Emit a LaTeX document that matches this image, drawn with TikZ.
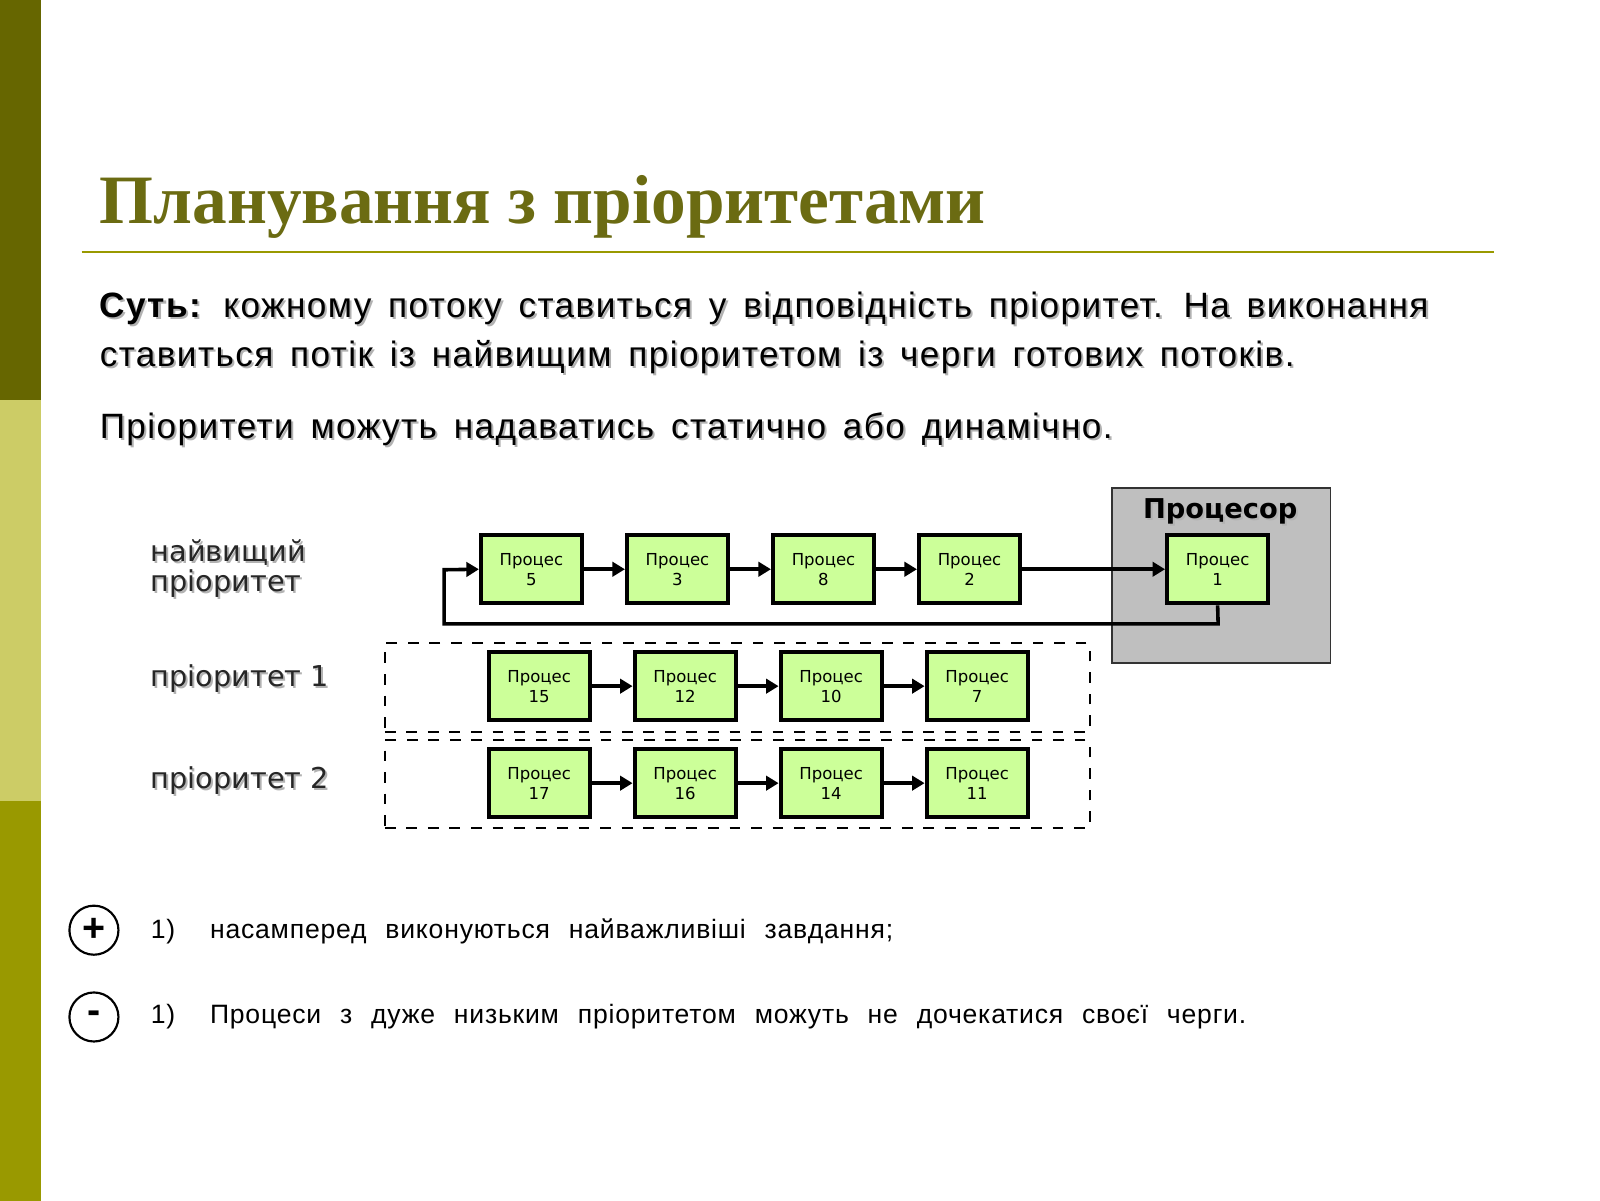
\documentclass[tikz,border=0pt]{standalone}
\usepackage{fontspec}
\setmainfont{Liberation Sans}
\newfontfamily\tserif{Liberation Serif}
\newfontfamily\verd{DejaVu Sans}
\newfontfamily\bodyf[LetterSpace=4,WordSpace=1.5]{Liberation Sans}
\newfontfamily\botf[LetterSpace=3,WordSpace=2.3]{Liberation Sans}
\usetikzlibrary{arrows.meta}
\definecolor{olivedk}{HTML}{666600}
\definecolor{olivelt}{HTML}{CCCC66}
\definecolor{olivemd}{HTML}{999900}
\definecolor{titlec}{HTML}{6B6B12}
\definecolor{procg}{HTML}{CCFF99}
\begin{document}
\begin{tikzpicture}[x=0.01cm,y=-0.01cm,
  proc/.style={draw=black,line width=1.1pt,fill=procg,minimum width=0.99cm,minimum height=0.67cm,inner sep=0pt,align=center,font=\verd\fontsize{4.6}{5.6}\selectfont},
  arr/.style={line width=1pt,-{Triangle[length=3.5pt,width=4pt]}},
  lbl/.style={anchor=west,inner sep=0pt,font=\verd\fontsize{8}{9.3}\selectfont,text=black!85,align=left},
  body/.style={anchor=base west,inner sep=0pt,font=\bodyf\fontsize{9.8}{11}\selectfont},
  bot/.style={anchor=west,inner sep=0pt,font=\botf\fontsize{7.4}{9}\selectfont}]
\useasboundingbox (0,0) rectangle (1567,1176);
\fill[white] (0,0) rectangle (1567,1176);
\fill[olivedk] (0,0) rectangle (40,392);
\fill[olivelt] (0,392) rectangle (40,784);
\fill[olivemd] (0,784) rectangle (40,1176);
\node[anchor=base west,inner sep=0pt,text=titlec,font=\tserif\bfseries\fontsize{19.3}{22}\selectfont] (title) at (97,219) {Планування з пріоритетами};
\draw[olivemd,line width=0.7pt] (80,247) -- (1463,247);
% shadows
\begin{scope}[text=black!30]
\node[body] at (99,313) {\textbf{Суть:} кожному потоку ставиться у відповідність пріоритет. На виконання};
\node[body] at (99,361) {ставиться потік із найвищим пріоритетом із черги готових потоків.};
\node[body] at (99,431) {Пріоритети можуть надаватись статично або динамічно.};
\node[lbl,text=black!30] at (149,559) {найвищий\\[-1pt]пріоритет};
\node[lbl,text=black!30] at (149,667) {пріоритет 1};
\node[lbl,text=black!30] at (149,766) {пріоритет 2};
\end{scope}
\node[body] (t1) at (97,311) {\textbf{Суть:} кожному потоку ставиться у відповідність пріоритет. На виконання};
\node[body] (t2) at (97,359) {ставиться потік із найвищим пріоритетом із черги готових потоків.};
\node[body] (t3) at (97,429) {Пріоритети можуть надаватись статично або динамічно.};
% processor
\node[draw=black!80,fill=black!25,minimum width=2.14cm,minimum height=1.71cm,anchor=north west,inner sep=0pt,line width=0.5pt] (cpu) at (1088,477) {};
\node[text=black!30,font=\verd\bfseries\fontsize{7.6}{9}\selectfont] at (1197,503) {Процесор};
\node[font=\verd\bfseries\fontsize{7.6}{9}\selectfont] (cpul) at (1195,501) {Процесор};
% dashed
\node[draw,dashed,line width=0.5pt,minimum width=6.9cm,minimum height=0.87cm,anchor=north west,inner sep=0pt] (d1) at (376,629) {};
\node[draw,dashed,line width=0.5pt,minimum width=6.9cm,minimum height=0.86cm,anchor=north west,inner sep=0pt] (d2) at (376,724) {};
% labels
\node[lbl] (l0) at (147,557) {найвищий\\[-1pt]пріоритет};
\node[lbl] (l1) at (147,665) {пріоритет 1};
\node[lbl] (l2) at (147,764) {пріоритет 2};
% row 1
\node[proc] (p5) at (520.5,557.5) {Процес\\5};
\node[proc] (p3) at (663.5,557.5) {Процес\\3};
\node[proc] (p8) at (806.5,557.5) {Процес\\8};
\node[proc] (p2) at (949.5,557.5) {Процес\\2};
\node[proc] (p1) at (1192.5,557.5) {Процес\\1};
\draw[arr] (p5) -- (p3);
\draw[arr] (p3) -- (p8);
\draw[arr] (p8) -- (p2);
\draw[arr] (p2) -- (p1);
\coordinate (c1) at (1193,611);
\coordinate (c2) at (435,611);
\coordinate (c3) at (435,558);
\draw[arr] (p1.south) -- (c1) -- (c2) -- (c3) -- (p5.west);
% row 2
\node[proc] (p15) at (528,672) {Процес\\15};
\node[proc] (p12) at (671,672) {Процес\\12};
\node[proc] (p10) at (814,672) {Процес\\10};
\node[proc] (p7) at (957,672) {Процес\\7};
\draw[arr] (p15) -- (p12);
\draw[arr] (p12) -- (p10);
\draw[arr] (p10) -- (p7);
% row 3
\node[proc] (p17) at (528,767) {Процес\\17};
\node[proc] (p16) at (671,767) {Процес\\16};
\node[proc] (p14) at (814,767) {Процес\\14};
\node[proc] (p11) at (957,767) {Процес\\11};
\draw[arr] (p17) -- (p16);
\draw[arr] (p16) -- (p14);
\draw[arr] (p14) -- (p11);
% pros/cons
\node[draw,circle,line width=0.6pt,minimum size=0.48cm,inner sep=0pt,font=\bfseries\fontsize{11}{11}\selectfont] (plus) at (92,911) {+};
\node[draw,circle,line width=0.6pt,minimum size=0.48cm,inner sep=0pt,font=\bfseries\fontsize{11}{11}\selectfont] (minus) at (92,996) {-};
\node[bot] (n1) at (147,912) {1)};
\node[bot] (s1) at (205,912) {насамперед виконуються найважливіші завдання;};
\node[bot] (n2) at (147,996) {1)};
\node[bot] (s2) at (205,996) {Процеси з дуже низьким пріоритетом можуть не дочекатися своєї черги.};
\end{tikzpicture}
\end{document}
